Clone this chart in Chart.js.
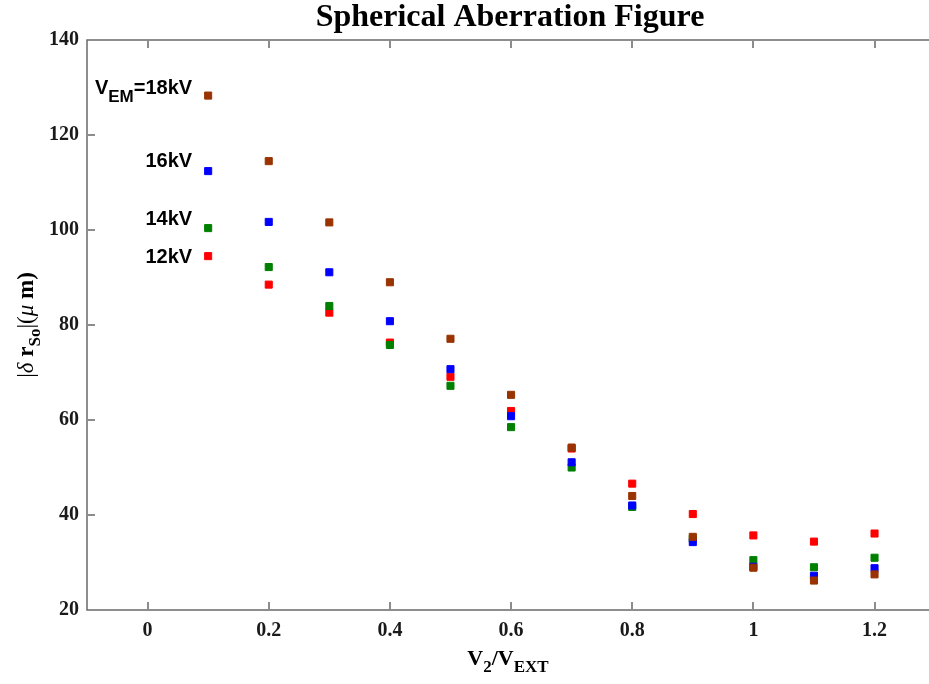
<!DOCTYPE html>
<html>
<head>
<meta charset="utf-8">
<script src="https://cdn.jsdelivr.net/npm/chart.js@4.4.1/dist/chart.umd.min.js"></script>
<style>
  html, body { margin: 0; padding: 0; background: #ffffff; }
  #wrap { width: 929px; height: 684px; }
</style>
</head>
<body>
<div id="wrap"><canvas id="c" width="929" height="684"></canvas></div>
<script>
// V2/VEXT ratios sampled for every extraction voltage
const ratios = [0.1, 0.2, 0.3, 0.4, 0.5, 0.6, 0.7, 0.8, 0.9, 1.0, 1.1, 1.2];

// |δ r_So| in μm for each V_EM
const aber18kV = [128.3, 114.5, 101.6, 89.0, 77.1, 65.3, 54.2, 44.0, 35.4, 28.9, 26.2, 27.5];
const aber16kV = [112.4, 101.7, 91.1, 80.8, 70.7, 60.8, 51.1, 42.0, 34.3, 29.1, 27.2, 28.8];
const aber14kV = [100.4, 92.2, 84.0, 75.8, 67.2, 58.5, 50.0, 41.7, 35.0, 30.5, 29.0, 31.0];
const aber12kV = [94.5, 88.5, 82.6, 76.3, 69.1, 61.9, 54.0, 46.6, 40.2, 35.7, 34.4, 36.1];

// axis ticks
const xTickValues = [0, 0.2, 0.4, 0.6, 0.8, 1.0, 1.2];
const xTickLabels = ['0', '0.2', '0.4', '0.6', '0.8', '1', '1.2'];
const yTickValues = [20, 40, 60, 80, 100, 120, 140];
const yTickLabels = ['20', '40', '60', '80', '100', '120', '140'];

// series names written beside the first column of points
const seriesNames = ['=18kV', '16kV', '14kV', '12kV'];

const SERIF = '"Liberation Serif", "Times New Roman", serif';
const SANS = '"Liberation Sans", Arial, sans-serif';

function toPoints(ys) { return ratios.map((r, i) => ({ x: r, y: ys[i] })); }

function series(label, ys, color) {
  return {
    label, data: toPoints(ys),
    pointStyle: 'rect', pointRadius: 5, pointHoverRadius: 5,
    backgroundColor: color, borderColor: color, borderWidth: 1,
    showLine: false
  };
}

// draws a run of text pieces (each with its own font / baseline shift), left to right
function richWidth(ctx, parts) {
  let w = 0;
  for (const p of parts) { ctx.font = p.font; w += ctx.measureText(p.t).width; }
  return w;
}
function drawRich(ctx, parts, x, y) {
  let cx = x;
  for (const p of parts) {
    ctx.font = p.font;
    ctx.fillText(p.t, cx, y + (p.dy || 0));
    cx += ctx.measureText(p.t).width;
  }
}

// box lines with inward tick marks (bottom, left, top); the plot runs off the right edge
const framePlugin = {
  id: 'frame',
  beforeDatasetsDraw(chart) {
    const { ctx, chartArea: a, scales } = chart;
    const xs = scales.x, ys = scales.y;
    const edge = chart.width;
    ctx.save();
    ctx.strokeStyle = '#6a6a6a';
    ctx.lineWidth = 1.5;
    ctx.beginPath();
    ctx.moveTo(edge, a.top);
    ctx.lineTo(a.left, a.top);
    ctx.lineTo(a.left, a.bottom);
    ctx.lineTo(edge, a.bottom);
    ctx.stroke();

    ctx.strokeStyle = '#8c8c8c';
    ctx.lineWidth = 2;
    ctx.beginPath();
    xs.ticks.forEach(t => {
      const px = Math.round(xs.getPixelForValue(t.value));
      ctx.moveTo(px, a.bottom); ctx.lineTo(px, a.bottom - 8);
      ctx.moveTo(px, a.top); ctx.lineTo(px, a.top + 8);
    });
    ys.ticks.forEach(t => {
      if (t.value === ys.min || t.value === ys.max) return;
      const py = Math.round(ys.getPixelForValue(t.value));
      ctx.moveTo(a.left, py); ctx.lineTo(a.left + 8, py);
    });
    ctx.stroke();
    ctx.restore();
  }
};

// title, axis titles with subscripts, and series names
const textPlugin = {
  id: 'texts',
  afterDraw(chart) {
    const { ctx, chartArea: a, scales } = chart;
    const xs = scales.x, ys = scales.y;
    const cx = (a.left + chart.width) / 2;
    ctx.save();
    ctx.fillStyle = '#000000';
    ctx.textBaseline = 'alphabetic';
    ctx.textAlign = 'left';

    // title
    ctx.font = 'bold 32px ' + SERIF;
    const title = 'Spherical Aberration Figure';
    const tw = ctx.measureText(title).width;
    ctx.fillText(title, cx + 2 - tw / 2, 26);

    // x axis title: V2/VEXT
    const xParts = [
      { t: 'V', font: 'bold 22px ' + SERIF },
      { t: '2', font: 'bold 17px ' + SERIF, dy: 7 },
      { t: '/V', font: 'bold 22px ' + SERIF },
      { t: 'EXT', font: 'bold 17px ' + SERIF, dy: 7 }
    ];
    const xw = richWidth(ctx, xParts);
    drawRich(ctx, xParts, cx - xw / 2, 665);

    // y axis title: |δ r_So|(μ m)
    const yParts = [
      { t: '|', font: '23px ' + SERIF },
      { t: 'δ', font: 'italic 23px ' + SERIF },
      { t: ' r', font: 'bold 23px ' + SERIF },
      { t: 'So', font: 'bold 17px ' + SERIF, dy: 7 },
      { t: '|(', font: '23px ' + SERIF },
      { t: 'μ', font: 'italic 23px ' + SERIF },
      { t: ' m)', font: 'bold 23px ' + SERIF }
    ];
    const yw = richWidth(ctx, yParts);
    ctx.save();
    ctx.translate(33, (a.top + a.bottom) / 2);
    ctx.rotate(-Math.PI / 2);
    drawRich(ctx, yParts, -yw / 2, 0);
    ctx.restore();

    // series names, right-aligned just left of the first column
    const right = xs.getPixelForValue(ratios[0]) - 16;
    const anchors = [128.6, 113.3, 101.0, 93.0];
    seriesNames.forEach((name, i) => {
      const parts = i === 0
        ? [{ t: 'V', font: 'bold 20px ' + SANS },
           { t: 'EM', font: 'bold 17px ' + SANS, dy: 8 },
           { t: name, font: 'bold 20px ' + SANS }]
        : [{ t: name, font: 'bold 20px ' + SANS }];
      const w = richWidth(ctx, parts);
      drawRich(ctx, parts, right - w, ys.getPixelForValue(anchors[i]));
    });
    ctx.restore();
  }
};

new Chart(document.getElementById('c'), {
  type: 'scatter',
  data: {
    datasets: [
      series('18kV', aber18kV, '#993300'),
      series('16kV', aber16kV, '#0000ff'),
      series('14kV', aber14kV, '#008000'),
      series('12kV', aber12kV, '#ff0000')
    ]
  },
  options: {
    responsive: false,
    animation: false,
    events: [],
    layout: { padding: { top: 40, left: 0, right: 0, bottom: 0 } },
    plugins: { legend: { display: false }, tooltip: { enabled: false }, title: { display: false } },
    scales: {
      x: {
        type: 'linear', min: -0.1, max: 1.28,
        grid: { display: false, drawTicks: false },
        border: { display: false },
        afterBuildTicks: s => { s.ticks = xTickValues.map(v => ({ value: v })); },
        afterFit: s => { s.height = 74; s.paddingLeft = 0; s.paddingRight = 0; },
        ticks: {
          padding: 9, color: '#1a1a1a', maxRotation: 0, autoSkip: false,
          font: { family: SERIF, weight: 'bold', size: 20 },
          callback: (v, i) => xTickLabels[i]
        }
      },
      y: {
        type: 'linear', min: 20, max: 140,
        grid: { display: false, drawTicks: false },
        border: { display: false },
        afterBuildTicks: s => { s.ticks = yTickValues.map(v => ({ value: v })); },
        afterFit: s => { s.width = 87; s.paddingTop = 0; s.paddingBottom = 0; },
        ticks: {
          padding: 8, color: '#1a1a1a', autoSkip: false,
          font: { family: SERIF, weight: 'bold', size: 20 },
          callback: (v, i) => yTickLabels[i]
        }
      }
    }
  },
  plugins: [framePlugin, textPlugin]
});
</script>
</body>
</html>
